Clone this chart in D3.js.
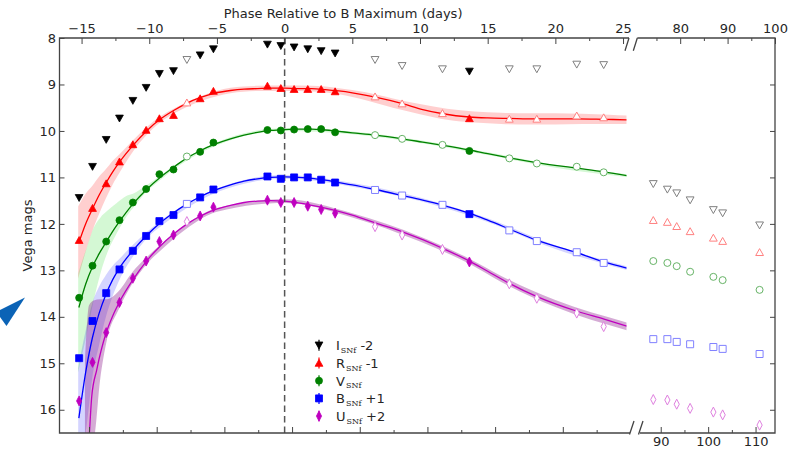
<!DOCTYPE html>
<html>
<head>
<meta charset="utf-8">
<script src="https://cdn.jsdelivr.net/npm/d3@7"></script>
<style>
  body { margin: 0; background: #fff; }
  svg { display: block; font-family: "DejaVu Sans", sans-serif; }
</style>
</head>
<body>
<script>
// ---- Observations: phase (days relative to B maximum) and offset magnitudes ----
const phaseEarly = [-15.18, -14.19, -13.18, -12.20, -11.21, -10.23, -9.25, -8.21, -7.22, -6.24, -5.26,
  -1.27, -0.28, 0.70, 1.71, 2.70, 3.73, 6.68, 8.68, 11.66, 13.65, 16.60, 18.63, 21.58, 23.57];
// 1 = epoch plotted with an open marker
const openEarly = [0,0,0,0,0,0,0,0,1,0,0, 0,0,0,0,0,0,1,1,1,0,1,1,1,1];
const phaseLate = [74.33, 77.30, 79.27, 82.10, 87.00, 88.96, 96.75];

const iMag = [11.44, 10.77, 10.19, 9.73, 9.35, 9.07, 8.77, 8.71, 8.47, 8.37, 8.24,
  8.14, 8.17, 8.20, 8.24, 8.28, 8.33, 8.47, 8.60, 8.67, 8.72, 8.67, 8.67, 8.57, 8.58];
const iLate = [11.14, 11.26, 11.34, 11.49, 11.70, 11.77, 12.03];
const rMag = [12.35, 11.66, 11.13, 10.66, 10.29, 9.98, 9.73, 9.66, 9.39, 9.30, 9.14,
  9.03, 9.08, 9.10, 9.10, 9.10, 9.15, 9.26, 9.41, 9.62, 9.73, 9.74, 9.74, 9.67, 9.71];
const rLate = [11.92, 11.96, 12.05, 12.16, 12.30, 12.37, 12.61];
const vMag = [13.59, 12.90, 12.38, 11.92, 11.54, 11.25, 10.93, 10.83, 10.55, 10.45, 10.25,
  9.98, 9.99, 9.97, 9.96, 9.96, 10.03, 10.09, 10.17, 10.30, 10.43, 10.59, 10.70, 10.77, 10.89];
const vLate = [12.80, 12.84, 12.91, 13.03, 13.14, 13.21, 13.42];
const bMag = [14.89, 14.09, 13.49, 12.98, 12.58, 12.26, 11.94, 11.81, 11.57, 11.43, 11.26,
  10.98, 11.03, 11.00, 11.00, 11.05, 11.11, 11.27, 11.39, 11.59, 11.79, 12.14, 12.37, 12.61, 12.84];
const bLate = [14.48, 14.48, 14.54, 14.59, 14.65, 14.69, 14.80];
const uMag = [15.81, 14.98, 14.34, 13.69, 13.17, 12.80, 12.38, 12.24, 11.95, 11.83, 11.64,
  11.49, 11.54, 11.54, 11.62, 11.69, 11.77, 12.06, 12.24, 12.55, 12.82, 13.29, 13.60, 13.92, 14.21];
const uLate = [15.78, 15.79, 15.88, 15.97, 16.05, 16.11, 16.33];

// ---- Model light curves ----
const modelPhase = [-15.2, -14.7, -14.2, -13.7, -13.2, -12.7, -12.2, -11.2, -10.2, -9.2, -8.2, -7.2, -6.2, -5.2,
  -4, -3, -2, -1, 0, 1, 2, 3, 4, 5, 6.7, 8.7, 10.2, 11.7, 13.65, 15, 16.6, 18.6, 21.6, 23.6, 25.27];
const rModel = [12.40, 12.00, 11.68, 11.38, 11.12, 10.88, 10.67, 10.31, 10.00, 9.75, 9.56, 9.40, 9.28, 9.19,
  9.13, 9.10, 9.09, 9.08, 9.08, 9.09, 9.09, 9.11, 9.14, 9.18, 9.27, 9.41, 9.54, 9.63, 9.70, 9.72, 9.73, 9.74, 9.74, 9.75, 9.76];
const vModel = [13.80, 13.30, 12.93, 12.64, 12.40, 12.16, 11.95, 11.57, 11.26, 11.00, 10.78, 10.58, 10.42, 10.29,
  10.17, 10.09, 10.03, 9.99, 9.97, 9.96, 9.96, 9.98, 10.01, 10.04, 10.09, 10.17, 10.24, 10.31, 10.41, 10.49, 10.58, 10.68, 10.80, 10.88, 10.96];
const bModel = [16.18, 15.20, 14.45, 13.92, 13.52, 13.20, 12.95, 12.57, 12.25, 11.98, 11.76, 11.57, 11.41, 11.28,
  11.16, 11.08, 11.03, 11.00, 10.99, 11.00, 11.02, 11.06, 11.11, 11.16, 11.26, 11.39, 11.49, 11.60, 11.77, 11.92, 12.11, 12.35, 12.62, 12.82, 12.95];
const uModelPhase = [-14.6, -14.43, -14.25, -13.88, -13.2, -12.7, -12.2, -11.2, -10.2, -9.2, -8.2, -7.2, -6.2, -5.2,
  -4, -3, -2, -1, 0, 1, 2, 3, 4, 5, 6.7, 8.7, 10.2, 11.7, 13.65, 15, 16.6, 18.6, 21.6, 23.6, 25.27];
const uModel = [17.30, 16.55, 15.72, 15.14, 14.36, 13.98, 13.68, 13.20, 12.80, 12.48, 12.22, 12.00, 11.83, 11.70,
  11.60, 11.54, 11.51, 11.50, 11.51, 11.55, 11.60, 11.66, 11.73, 11.81, 11.98, 12.17, 12.34, 12.53, 12.80, 13.02, 13.28, 13.56, 13.88, 14.05, 14.20];

// ---- Model uncertainty envelopes ----
const rBandPhase = [-15.25, -14.7, -14.2, -13.7, -13.2, -12.7, -12.2, -11.2, -10.2, -9.2, -8, -6, -4, -2, 0, 2, 4, 6, 8, 10, 12, 14, 16, 18, 20, 22, 24, 25.27];
const rBandLo = [11.62, 11.35, 11.18, 10.98, 10.82, 10.64, 10.50, 10.20, 9.92, 9.69, 9.49, 9.23, 9.07, 9.03, 9.02, 9.03, 9.08, 9.17, 9.30, 9.42, 9.52, 9.58, 9.61, 9.62, 9.62, 9.63, 9.65, 9.67];
const rBandHi = [13.18, 12.60, 12.15, 11.78, 11.45, 11.15, 10.90, 10.44, 10.09, 9.82, 9.60, 9.34, 9.19, 9.14, 9.14, 9.15, 9.21, 9.34, 9.50, 9.64, 9.76, 9.82, 9.85, 9.86, 9.86, 9.85, 9.85, 9.85];
const vBandPhase = [-15.25, -14.6, -14.1, -13.6, -13.1, -12.4, -11.7, -11.2, -10.2, -9, -7, -5, 0, 5, 10, 15, 20, 25.27];
const vBandLo = [13.06, 12.49, 12.08, 11.86, 11.72, 11.55, 11.40, 11.35, 11.17, 10.92, 10.53, 10.24, 9.94, 10.01, 10.20, 10.46, 10.73, 10.93];
const vBandHi = [15.20, 14.35, 13.64, 13.06, 12.62, 12.20, 11.85, 11.66, 11.31, 11.01, 10.60, 10.31, 10.00, 10.07, 10.26, 10.52, 10.79, 10.99];
const bBandPhase = [-15.25, -14.7, -14.2, -13.7, -13.2, -12.7, -12.2, -11.2, -10.2, -9, -7, -5, 0, 5, 10, 15, 20, 25.27];
const bBandLo = [15.10, 14.30, 13.70, 13.35, 13.10, 12.90, 12.75, 12.45, 12.18, 11.90, 11.52, 11.24, 10.95, 11.12, 11.43, 11.88, 12.46, 12.91];
const bBandHi = [16.90, 16.50, 15.30, 14.60, 14.00, 13.55, 13.20, 12.70, 12.32, 12.02, 11.62, 11.32, 11.03, 11.20, 11.51, 11.96, 12.54, 12.99];
const uBandPhase = [-14.75, -14.45, -14.1, -13.63, -13.13, -12.27, -11.28, -10.2, -9, -7, -5, 0, 5, 10, 13.65, 16, 20, 25.27];
const uBandLo = [15.00, 13.75, 13.65, 13.62, 13.62, 13.45, 13.05, 12.72, 12.41, 11.95, 11.66, 11.47, 11.77, 12.27, 12.75, 13.12, 13.64, 14.12];
const uBandHi = [16.60, 16.60, 16.60, 15.36, 14.50, 13.85, 13.30, 12.87, 12.53, 12.05, 11.74, 11.55, 11.86, 12.38, 12.86, 13.25, 13.79, 14.29];

// ---- Axis ticks ----
const magTicks = [8, 9, 10, 11, 12, 13, 14, 15, 16];
const topTicksLeft = [-15, -10, -5, 0, 5, 10, 15, 20, 25];
const topMinorLeft = [-12.5, -7.5, -2.5, 2.5, 7.5, 12.5, 17.5, 22.5];
const topTicksRight = [80, 90, 100];
const topMinorRight = [75, 85, 95];
const bottomTicksLeft = [0, 5, 10, 15, 20, 25, 30, 35];
const bottomMinorLeft = [2.5, 7.5, 12.5, 17.5, 22.5, 27.5, 32.5, 37.5];
const bottomTicksRight = [90, 100, 110];
const bottomMinorRight = [95, 105];

const legendLabels = [
  { main: "I", sub: "SNf", tail: " -2" },
  { main: "R", sub: "SNf", tail: " -1" },
  { main: "V", sub: "SNf", tail: "" },
  { main: "B", sub: "SNf", tail: " +1" },
  { main: "U", sub: "SNf", tail: " +2" }
];

// ---- Scales ----
const W = 799, H = 449;
const yTop = 38, yBottom = 433;
const y = d3.scaleLinear().domain([8, 16.5]).range([yTop, yBottom]);
const xL = d3.scaleLinear().domain([-16.63, 25.27]).range([59.5, 626.7]);
const xR = d3.scaleLinear().domain([71, 100]).range([637.5, 775]);
const shiftLeft = 14.45, shiftRight = 14.1;   // lower axis counts days from the first epoch
const xLb = d3.scaleLinear().domain(xL.domain().map(d => d + shiftLeft)).range(xL.range());
const xRb = d3.scaleLinear().domain(xR.domain().map(d => d + shiftRight)).range(xR.range());

const svg = d3.select("body").append("svg").attr("width", W).attr("height", H);
svg.append("rect").attr("width", W).attr("height", H).attr("fill", "#fff");

svg.append("defs").append("clipPath").attr("id", "leftClip")
  .append("rect").attr("x", xL.range()[0]).attr("y", yTop)
  .attr("width", xL.range()[1] - xL.range()[0]).attr("height", yBottom - yTop);

// ---- Band definitions ----
const bands = [
  { mags: rMag, late: rLate, shape: "^", color: "#ff0000", light: "#ff8080",
    mPhase: modelPhase, model: rModel, ePhase: rBandPhase, lo: rBandLo, hi: rBandHi, fill: "rgba(255,0,0,0.19)" },
  { mags: vMag, late: vLate, shape: "o", color: "#008000", light: "#66b366",
    mPhase: modelPhase, model: vModel, ePhase: vBandPhase, lo: vBandLo, hi: vBandHi, fill: "rgba(40,220,40,0.2)" },
  { mags: bMag, late: bLate, shape: "s", color: "#0000ff", light: "#8080ff",
    mPhase: modelPhase, model: bModel, ePhase: bBandPhase, lo: bBandLo, hi: bBandHi, fill: "rgba(0,0,255,0.17)" },
  { mags: uMag, late: uLate, shape: "d", color: "#bf00bf", light: "#df80df",
    mPhase: uModelPhase, model: uModel, ePhase: uBandPhase, lo: uBandLo, hi: uBandHi, fill: "rgba(128,0,128,0.33)" }
];
const iBand = { mags: iMag, late: iLate, shape: "v", color: "#000000", light: "#808080" };

function markerPath(shape) {
  switch (shape) {
    case "v": return "M-3.9,-3.3L3.9,-3.3L0,3.6Z";
    case "^": return "M-3.9,3.3L3.9,3.3L0,-3.6Z";
    case "o": return "M3.5,0A3.5,3.5 0 1,1 -3.5,0A3.5,3.5 0 1,1 3.5,0Z";
    case "s": return "M-3.5,-3.5H3.5V3.5H-3.5Z";
    case "d": return "M0,-5L2.6,0L0,5L-2.6,0Z";
  }
}

// ---- Envelopes and model curves (left panel) ----
const plotL = svg.append("g").attr("clip-path", "url(#leftClip)");
bands.forEach(b => {
  const pts = b.ePhase.map((p, i) => [p, b.lo[i], b.hi[i]]);
  plotL.append("path").datum(pts)
    .attr("d", d3.area().curve(d3.curveMonotoneX)
      .x(d => xL(d[0])).y0(d => y(d[1])).y1(d => y(d[2])))
    .attr("fill", b.fill).attr("stroke", "none");
});

// zero-phase marker
svg.append("line").attr("x1", xL(0)).attr("x2", xL(0)).attr("y1", yTop).attr("y2", yBottom)
  .attr("stroke", "#555").attr("stroke-width", 1.5).attr("stroke-dasharray", "6.5,4");

bands.forEach(b => {
  const pts = b.mPhase.map((p, i) => [p, b.model[i]]);
  plotL.append("path").datum(pts)
    .attr("d", d3.line().curve(d3.curveMonotoneX).x(d => xL(d[0])).y(d => y(d[1])))
    .attr("fill", "none").attr("stroke", b.color).attr("stroke-width", 1.3);
});

// ---- Data points ----
function drawPoints(b) {
  svg.append("g").selectAll("path").data(b.mags.map((m, i) => [phaseEarly[i], m, openEarly[i]]))
    .join("path")
    .attr("transform", d => `translate(${xL(d[0])},${y(d[1])})`)
    .attr("d", markerPath(b.shape))
    .attr("fill", d => d[2] ? "#fff" : b.color)
    .attr("stroke", d => d[2] ? b.light : b.color)
    .attr("stroke-width", d => d[2] ? 1 : 0.8);
  svg.append("g").selectAll("path").data(b.late.map((m, i) => [phaseLate[i], m]))
    .join("path")
    .attr("transform", d => `translate(${xR(d[0])},${y(d[1])})`)
    .attr("d", markerPath(b.shape))
    .attr("fill", "#fff").attr("stroke", b.light).attr("stroke-width", 1);
}
drawPoints(iBand);
bands.forEach(drawPoints);

// ---- Axes ----
const axisColor = "#444", textColor = "#262626";
function styleAxis(g, labels) {
  g.select(".domain").remove();
  g.selectAll(".tick line").attr("stroke", axisColor).attr("stroke-width", 1);
  g.selectAll(".tick text").attr("fill", textColor).attr("font-size", 13)
    .attr("font-family", "DejaVu Sans, sans-serif");
  if (!labels) g.selectAll(".tick text").remove();
}
const fmt = d3.format("d");

svg.append("g").attr("transform", `translate(0,${yTop})`)
  .call(d3.axisTop(xL).tickValues(topTicksLeft).tickSize(-6).tickPadding(5).tickFormat(fmt))
  .call(g => styleAxis(g, true));
svg.append("g").attr("transform", `translate(0,${yTop})`)
  .call(d3.axisTop(xL).tickValues(topMinorLeft).tickSize(-3))
  .call(g => styleAxis(g, false));
svg.append("g").attr("transform", `translate(0,${yTop})`)
  .call(d3.axisTop(xR).tickValues(topTicksRight).tickSize(-6).tickPadding(5).tickFormat(fmt))
  .call(g => styleAxis(g, true));
svg.append("g").attr("transform", `translate(0,${yTop})`)
  .call(d3.axisTop(xR).tickValues(topMinorRight).tickSize(-3))
  .call(g => styleAxis(g, false));

svg.append("g").attr("transform", `translate(0,${yBottom})`)
  .call(d3.axisBottom(xLb).tickValues(bottomTicksLeft).tickSize(-6))
  .call(g => styleAxis(g, false));
svg.append("g").attr("transform", `translate(0,${yBottom})`)
  .call(d3.axisBottom(xLb).tickValues(bottomMinorLeft).tickSize(-3))
  .call(g => styleAxis(g, false));
svg.append("g").attr("transform", `translate(0,${yBottom})`)
  .call(d3.axisBottom(xRb).tickValues(bottomTicksRight).tickSize(-6).tickPadding(4.2).tickFormat(fmt))
  .call(g => styleAxis(g, true));
svg.append("g").attr("transform", `translate(0,${yBottom})`)
  .call(d3.axisBottom(xRb).tickValues(bottomMinorRight).tickSize(-3))
  .call(g => styleAxis(g, false));

svg.append("g").attr("transform", `translate(${xL.range()[0]},0)`)
  .call(d3.axisLeft(y).tickValues(magTicks).tickSize(-5).tickPadding(3.5).tickFormat(fmt))
  .call(g => styleAxis(g, true));
svg.append("g").attr("transform", `translate(${xR.range()[1]},0)`)
  .call(d3.axisRight(y).tickValues(magTicks.slice(1)).tickSize(-5))
  .call(g => styleAxis(g, false));

// ---- Spines and break marks ----
const spines = svg.append("g").attr("stroke", axisColor).attr("stroke-width", 1.3).attr("fill", "none");
const x0 = xL.range()[0];
spines.append("path").attr("d", `M629,${yTop}H${x0}V${yBottom}H630`);
spines.append("path").attr("d", `M637.3,${yTop}H${xR.range()[1]}V${yBottom}H640`);
spines.append("path").attr("d", `M629,${yTop}L625,50.7M637.3,${yTop}L633.3,50.7`);
spines.append("path").attr("d", `M634,421L629.5,${yBottom + 1.5}M643,421L638.5,${yBottom + 1.5}`);

// ---- Titles ----
svg.append("text").attr("x", (xL.range()[0] + xL.range()[1]) / 2).attr("y", 18.3)
  .attr("text-anchor", "middle").attr("font-size", 13).attr("fill", textColor)
  .text("Phase Relative to B Maximum (days)");
svg.append("text").attr("transform", `translate(32,${(yTop + yBottom) / 2}) rotate(-90)`)
  .attr("text-anchor", "middle").attr("font-size", 13).attr("fill", textColor)
  .text("Vega mags");

// ---- Legend ----
const legendItems = [iBand, ...bands];
const legend = svg.append("g").attr("transform", "translate(319,345.3)");
legendItems.forEach((b, i) => {
  const row = legend.append("g").attr("transform", `translate(0,${i * 17.7})`);
  row.append("line").attr("y1", -5.5).attr("y2", 5.5).attr("stroke", b.color).attr("stroke-width", 1.2);
  row.append("path").attr("d", markerPath(b.shape)).attr("fill", b.color)
    .attr("stroke", b.color).attr("stroke-width", 0.8);
  const t = row.append("text").attr("x", 17).attr("y", 5).attr("font-size", 13).attr("fill", textColor);
  const lab = legendLabels[i];
  t.append("tspan").text(lab.main);
  t.append("tspan").attr("dy", 2.5).attr("dx", 1).attr("font-size", 8)
    .attr("font-family", "DejaVu Serif, serif").text(lab.sub);
  if (lab.tail) t.append("tspan").attr("dy", -2.5).text(lab.tail);
});

// ---- Pointer glyph at the left edge ----
svg.append("path").attr("d", "M25,297.5L0,310L0,317L6.5,326Z").attr("fill", "#0b63b6");
</script>
</body>
</html>
